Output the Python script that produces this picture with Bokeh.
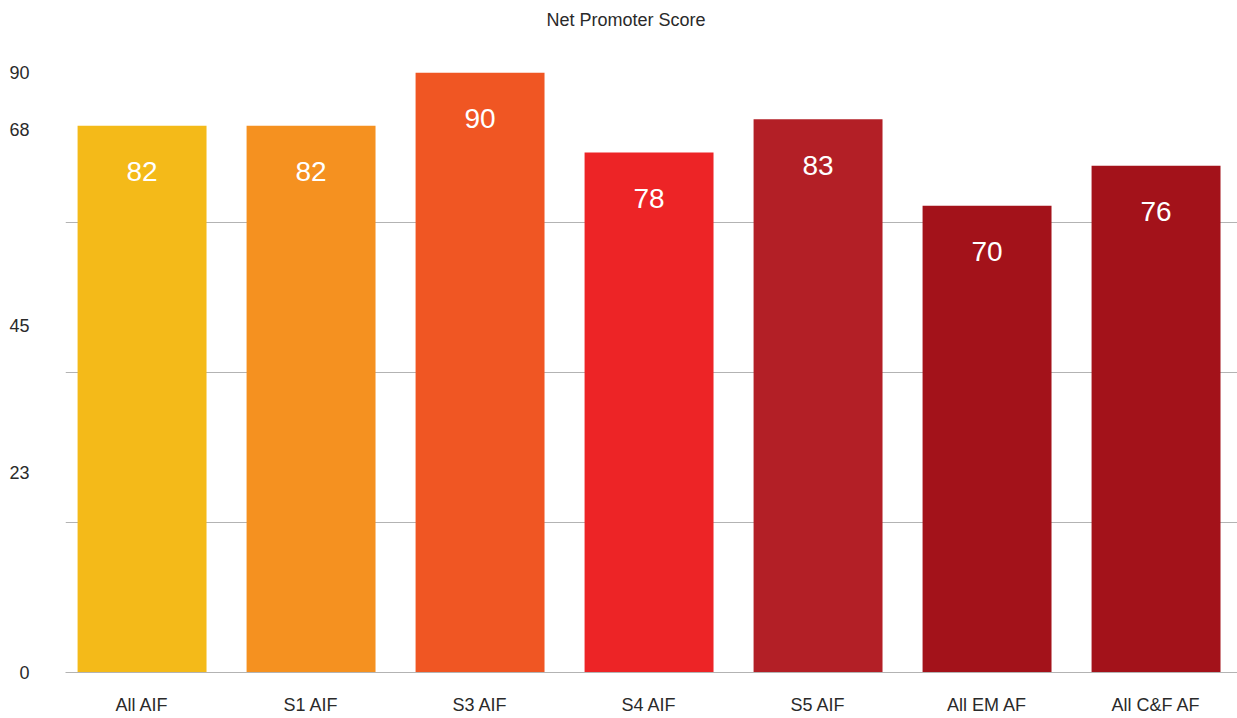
from bokeh.plotting import figure
from bokeh.layouts import column
from bokeh.models import ColumnDataSource, FixedTicker, Range1d, Div
from bokeh.embed import file_html
from bokeh.resources import INLINE
from bokeh.core.properties import value

# Net Promoter Score by group
title_text = "Net Promoter Score"
categories = ["All AIF", "S1 AIF", "S3 AIF", "S4 AIF", "S5 AIF", "All EM AF", "All C&F AF"]
scores = [82, 82, 90, 78, 83, 70, 76]
bar_colors = ["#F4BA19", "#F59120", "#F05623", "#ED2426", "#B31F26", "#A3121A", "#A3121A"]

# y-axis labels as printed on the chart
y_tick_labels = ["0", "23", "45", "68", "90"]
y_tick_positions = [0, 30, 52, 81.5, 90]
grid_positions = [0, 22.5, 45, 67.5, 90]

FONT = "Liberation Sans"
HEADER_H = 40

xs = list(range(len(categories)))
source = ColumnDataSource(dict(
    x=xs,
    score=scores,
    label=[str(s) for s in scores],
    color=bar_colors,
))

header = Div(
    text=title_text, width=1237, height=HEADER_H, margin=0,
    styles={
        "font-family": FONT, "font-size": "18px", "color": "#2a2a2a",
        "line-height": f"{HEADER_H}px", "text-align": "center",
        "padding-left": "15px", "box-sizing": "border-box", "width": "1237px",
        "background": "white",
    },
)

p = figure(
    width=1237, height=718 - HEADER_H,
    x_range=Range1d(-0.453, 6.482),
    y_range=Range1d(0, 90),
    output_backend="svg",
    toolbar_location=None,
    min_border_left=65, min_border_right=0,
    min_border_top=72 - HEADER_H, min_border_bottom=46,
    margin=0,
)
p.outline_line_color = None
p.background_fill_color = "white"
p.border_fill_color = "white"

p.vbar(x="x", top="score", bottom=0, width=0.763, fill_color="color",
       line_color=None, source=source)

p.text(x="x", y="score", text="label", source=source,
       text_font=value(FONT), text_font_size="28px", text_color="white",
       text_align="center", text_baseline="middle", y_offset=46)

# grid
p.xgrid.visible = False
p.ygrid.ticker = FixedTicker(ticks=grid_positions)
p.ygrid.grid_line_color = "#b3b3b3"
p.ygrid.grid_line_width = 1

# y axis
p.yaxis.ticker = FixedTicker(ticks=y_tick_positions)
p.yaxis.major_label_overrides = {pos: lab for pos, lab in zip(y_tick_positions, y_tick_labels)}
p.yaxis.axis_line_color = None
p.yaxis.major_tick_line_color = None
p.yaxis.minor_tick_line_color = None
p.yaxis.major_label_standoff = 30
p.yaxis.major_label_text_font = FONT
p.yaxis.major_label_text_font_size = "18px"
p.yaxis.major_label_text_color = "#2a2a2a"

# x axis
p.xaxis.ticker = FixedTicker(ticks=xs)
p.xaxis.major_label_overrides = {i: c for i, c in zip(xs, categories)}
p.xaxis.axis_line_color = "#b3b3b3"
p.xaxis.major_tick_line_color = None
p.xaxis.minor_tick_line_color = None
p.xaxis.major_tick_out = 0
p.xaxis.major_tick_in = 0
p.xaxis.major_label_standoff = 22
p.xaxis.major_label_text_font = FONT
p.xaxis.major_label_text_font_size = "18px"
p.xaxis.major_label_text_color = "#2a2a2a"

layout = column(header, p, spacing=0)

open("out.html", "w").write(file_html(layout, INLINE))
